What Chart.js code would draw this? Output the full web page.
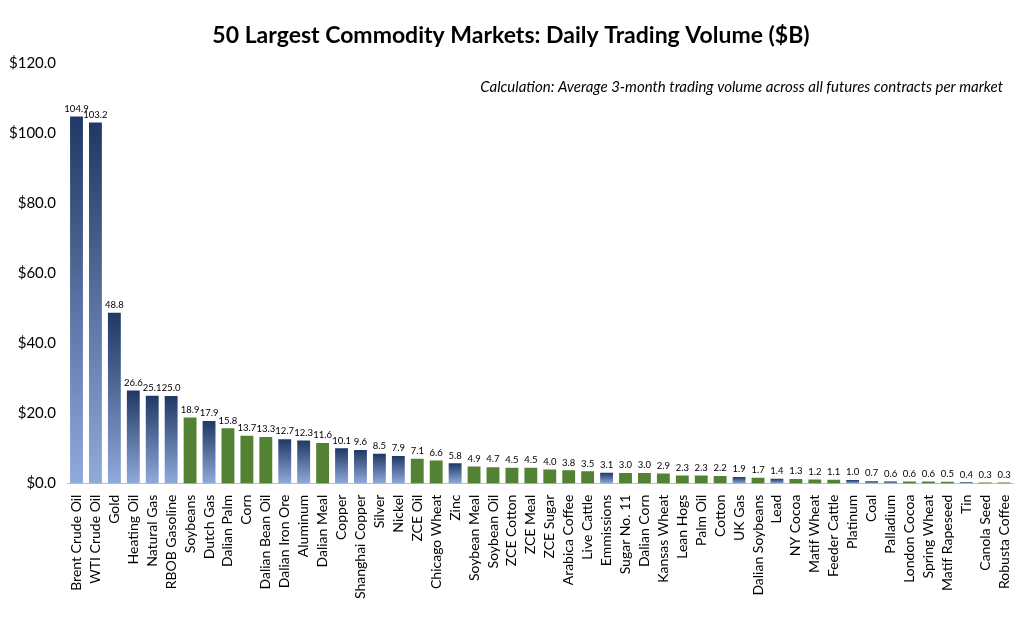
<!DOCTYPE html>
<html><head><meta charset="utf-8">
<script src="https://cdn.jsdelivr.net/npm/chart.js@4"></script>
<style>html,body{margin:0;padding:0;background:#fff}#w{width:1024px;height:628px}</style>
</head><body><div id="w"><canvas id="c"></canvas></div>
<script>
const categories=["Brent Crude Oil","WTI Crude Oil","Gold","Heating Oil","Natural Gas","RBOB Gasoline","Soybeans","Dutch Gas","Dalian Palm","Corn","Dalian Bean Oil","Dalian Iron Ore","Aluminum","Dalian Meal","Copper","Shanghai Copper","Silver","Nickel","ZCE Oil","Chicago Wheat","Zinc","Soybean Meal","Soybean Oil","ZCE Cotton","ZCE Meal","ZCE Sugar","Arabica Coffee","Live Cattle","Emmissions","Sugar No. 11","Dalian Corn","Kansas Wheat","Lean Hogs","Palm Oil","Cotton","UK Gas","Dalian Soybeans","Lead","NY Cocoa","Matif Wheat","Feeder Cattle","Platinum","Coal","Palladium","London Cocoa","Spring Wheat","Matif Rapeseed","Tin","Canola Seed","Robusta Coffee"];
const volumes=[104.9,103.2,48.8,26.6,25.1,25.0,18.9,17.9,15.8,13.7,13.3,12.7,12.3,11.6,10.1,9.6,8.5,7.9,7.1,6.6,5.8,4.9,4.7,4.5,4.5,4.0,3.8,3.5,3.1,3.0,3.0,2.9,2.3,2.3,2.2,1.9,1.7,1.4,1.3,1.2,1.1,1.0,0.7,0.6,0.6,0.6,0.5,0.4,0.3,0.3];
// A = agriculture (green), E = energy/metals (blue)
const sector=["E","E","E","E","E","E","A","E","A","A","A","E","E","A","E","E","E","E","A","A","E","A","A","A","A","A","A","A","E","A","A","A","A","A","A","E","A","E","A","A","A","E","E","E","A","A","A","E","A","A"];
const yTicks=[0,20,40,60,80,100,120];
const F="Lato, 'Liberation Sans', sans-serif";
const labelPlugin={id:'lbl',afterDatasetsDraw(ch){
  const c=ch.ctx;const m=ch.getDatasetMeta(0);
  c.save();c.font="9.5px "+F;c.fillStyle="#000";c.textAlign="center";c.textBaseline="bottom";
  m.data.forEach((b,i)=>c.fillText(volumes[i].toFixed(1),b.x,b.y-3));
  c.font="italic 15px "+F;c.textAlign="right";c.textBaseline="middle";
  c.fillText("Calculation: Average 3-month trading volume across all futures contracts per market",1003,87);
  c.restore();}};
new Chart(document.getElementById('c'),{type:'bar',
 data:{labels:categories,datasets:[{data:volumes,barPercentage:0.68,categoryPercentage:1,
  backgroundColor(ctx){
   if(sector[ctx.dataIndex]==="A")return "#548235";
   const ch=ctx.chart;const ys=ch.scales.y;if(!ys||!ch.chartArea)return "#2f5597";
   const t=ys.getPixelForValue(volumes[ctx.dataIndex]);const b=ys.getPixelForValue(0);
   const g=ch.ctx.createLinearGradient(0,t,0,b);g.addColorStop(0,"#1f3864");g.addColorStop(1,"#8faadc");return g;}}]},
 options:{responsive:true,maintainAspectRatio:false,animation:false,
  layout:{padding:{left:6,right:8,top:2,bottom:26}},
  plugins:{legend:{display:false},tooltip:{enabled:false},
   title:{display:true,text:"50 Largest Commodity Markets: Daily Trading Volume ($B)",font:{family:F,size:23,weight:'bold'},color:"#000",padding:{top:20,bottom:14}}},
  scales:{
   x:{grid:{display:false},border:{color:"#bfbfbf"},ticks:{autoSkip:false,maxRotation:90,minRotation:90,font:{family:F,size:14},color:"#000"}},
   y:{min:0,max:120,afterBuildTicks(a){a.ticks=yTicks.map(v=>({value:v}));},grid:{display:false},border:{display:false},
      ticks:{font:{family:F,size:15},color:"#000",callback:v=>"$"+v.toFixed(1)}}}},
 plugins:[labelPlugin]});
</script></body></html>
